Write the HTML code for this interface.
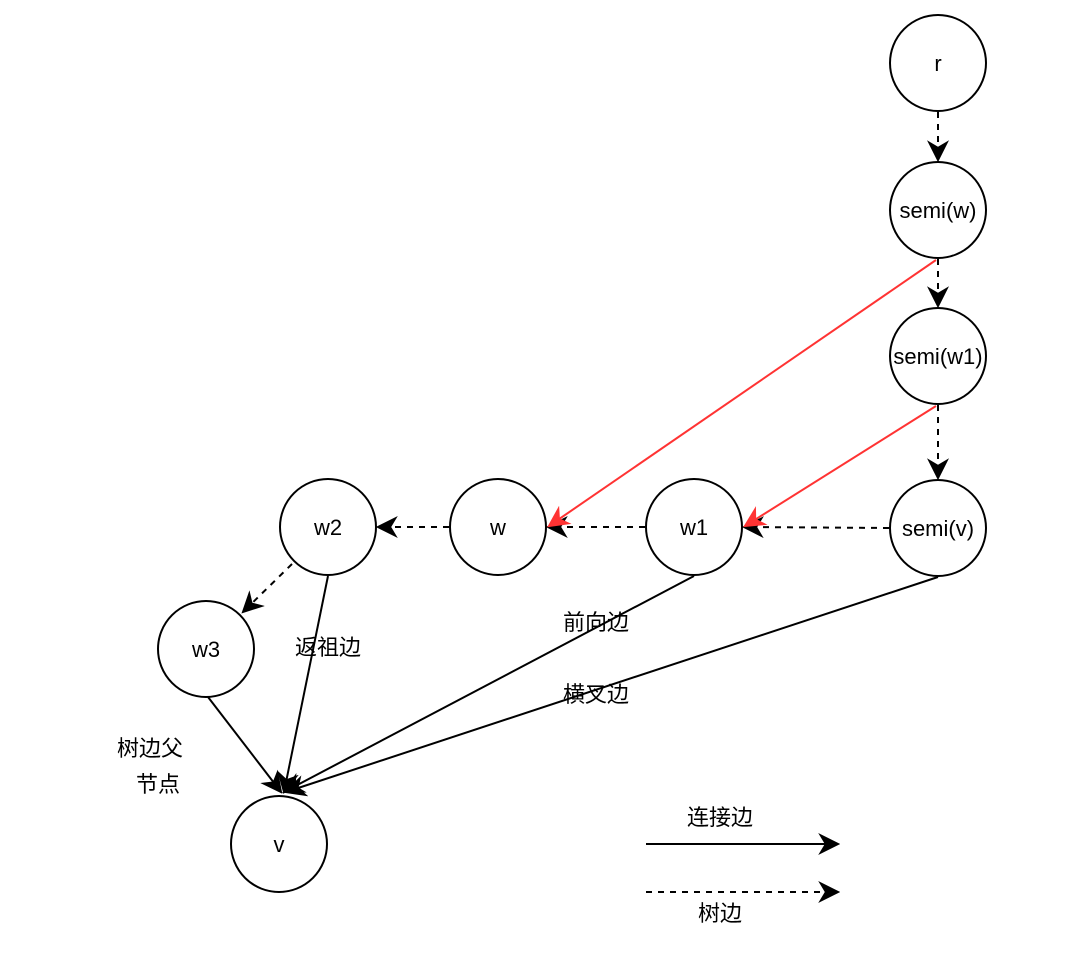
<!DOCTYPE html>
<html><head><meta charset="utf-8"><style>
body{margin:0;background:#fff}
svg text{font-family:"Liberation Sans","Noto Sans CJK SC",sans-serif;fill:#000}
</style></head><body>
<svg width="1080" height="962" viewBox="0 0 1080 962" xmlns="http://www.w3.org/2000/svg">
<defs>
<marker id="a" viewBox="0 0 10 10" refX="9" refY="5" markerWidth="9" markerHeight="9" markerUnits="userSpaceOnUse" orient="auto"><path d="M0,0 L10,5 L0,10 L3,5 z" fill="#000"/></marker>
<marker id="ab" viewBox="0 0 10 10" refX="9" refY="5" markerWidth="22" markerHeight="22" markerUnits="userSpaceOnUse" orient="auto"><path d="M0,0 L10,5 L0,10 L3,5 z" fill="#000"/></marker>
<marker id="ar" viewBox="0 0 10 10" refX="9" refY="5" markerWidth="22" markerHeight="22" markerUnits="userSpaceOnUse" orient="auto"><path d="M0,0 L10,5 L0,10 L3,5 z" fill="#f33"/></marker>
</defs>
<g stroke="#000" stroke-width="2" fill="#fff">
<circle cx="938" cy="63" r="48"/>
<circle cx="938" cy="210" r="48"/>
<circle cx="938" cy="356" r="48"/>
<circle cx="938" cy="528" r="48"/>
<circle cx="694" cy="527" r="48"/>
<circle cx="498" cy="527" r="48"/>
<circle cx="328" cy="527" r="48"/>
<circle cx="206" cy="649" r="48"/>
<circle cx="279" cy="844" r="48"/>
</g>
<g stroke="#000" stroke-width="2" fill="none" stroke-dasharray="6,6">
<line x1="938" y1="112" x2="938" y2="160" marker-end="url(#ab)"/>
<line x1="938" y1="259" x2="938" y2="306" marker-end="url(#ab)"/>
<line x1="938" y1="405" x2="938" y2="478" marker-end="url(#ab)"/>
<line x1="889" y1="528" x2="744" y2="527" marker-end="url(#ab)"/>
<line x1="645" y1="527" x2="548" y2="527" marker-end="url(#ab)"/>
<line x1="449" y1="527" x2="378" y2="527" marker-end="url(#ab)"/>
<line x1="292" y1="564" x2="243" y2="612" marker-end="url(#ab)"/>
<line x1="646" y1="892" x2="838" y2="892" marker-end="url(#ab)"/>
</g>
<g stroke="#000" stroke-width="2" fill="none">
<line x1="328" y1="576" x2="284" y2="792" marker-end="url(#ab)"/>
<line x1="208" y1="697" x2="281" y2="792" marker-end="url(#ab)"/>
<line x1="694" y1="576" x2="284" y2="792" marker-end="url(#ab)"/>
<line x1="938" y1="577" x2="286" y2="792" marker-end="url(#ab)"/>
<line x1="646" y1="844" x2="838" y2="844" marker-end="url(#ab)"/>
</g>
<g stroke="#f33" stroke-width="2" fill="none">
<line x1="936" y1="260" x2="549" y2="526" marker-end="url(#ar)"/>
<line x1="936" y1="406" x2="745" y2="526" marker-end="url(#ar)"/>
</g>
<g font-size="22" text-anchor="middle">
<text x="938" y="71">r</text>
<text x="938" y="218">semi(w)</text>
<text x="938" y="364">semi(w1)</text>
<text x="938" y="536">semi(v)</text>
<text x="694" y="535">w1</text>
<text x="498" y="535">w</text>
<text x="328" y="535">w2</text>
<text x="206" y="657">w3</text>
<text x="279" y="852">v</text>
<text x="596" y="630">前向边</text>
<text x="596" y="702">横叉边</text>
<text x="328" y="655">返祖边</text>
<text x="150" y="756">树边父</text>
<text x="158" y="792">节点</text>
<text x="720" y="825">连接边</text>
<text x="720" y="921">树边</text>
</g>
</svg>
</body></html>
